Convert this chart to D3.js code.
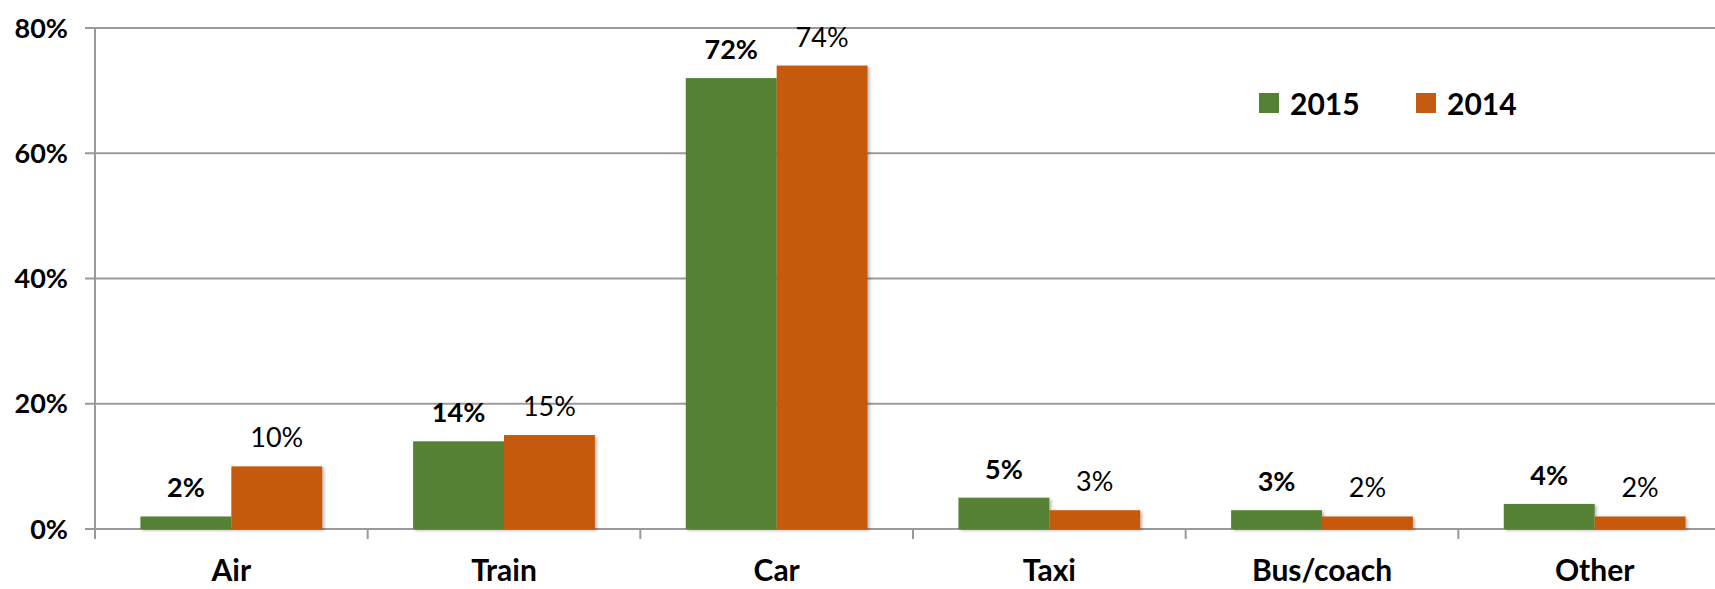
<!DOCTYPE html>
<html>
<head>
<meta charset="utf-8">
<script src="https://cdn.jsdelivr.net/npm/d3@7"></script>
<style>
  html, body { margin: 0; padding: 0; background: #fff; }
  svg { display: block; font-family: Lato, "Open Sans", sans-serif; }
</style>
</head>
<body>
<svg id="chart" width="1715" height="589"></svg>
<script>
// Travel mode shares, by year
const categories = ["Air", "Train", "Car", "Taxi", "Bus/coach", "Other"];
const seriesNames = ["2015", "2014"];
const values2015 = [2, 14, 72, 5, 3, 4];
const values2014 = [10, 15, 74, 3, 2, 2];
const yTicks = [0, 20, 40, 60, 80];

const colors = { "2015": "#548235", "2014": "#C55A11" };
const seriesValues = { "2015": values2015, "2014": values2014 };

const svg = d3.select("#chart");
const plotLeft = 95, plotRight = 1731, plotTop = 28, plotBottom = 529;

const x0 = d3.scaleBand().domain(categories).range([plotLeft, plotRight])
  .paddingInner(1 / 3).paddingOuter(1 / 6);
const x1 = d3.scaleBand().domain(seriesNames).range([0, x0.bandwidth()]);
const y = d3.scaleLinear().domain([0, 80]).range([plotBottom, plotTop]);

const defs = svg.append("defs");
const shadow = defs.append("filter").attr("id", "barShadow")
  .attr("x", "-10%").attr("y", "-10%").attr("width", "130%").attr("height", "130%");
shadow.append("feDropShadow").attr("dx", 2).attr("dy", 1.5)
  .attr("stdDeviation", 1.6).attr("flood-color", "#000").attr("flood-opacity", 0.28);

// Horizontal gridlines with left tick stubs
svg.append("g").selectAll("line").data(yTicks).join("line")
  .attr("x1", plotLeft - 10).attr("x2", 1715)
  .attr("y1", d => y(d)).attr("y2", d => y(d))
  .attr("stroke", "#9a9a9a").attr("stroke-width", 2);

// Value axis labels
svg.append("g").selectAll("text").data(yTicks).join("text")
  .attr("x", 68).attr("y", d => y(d)).attr("dy", "0.36em")
  .attr("text-anchor", "end").attr("font-weight", 700).attr("font-size", 27)
  .attr("fill", "#000").text(d => d + "%");

// Vertical axis line
svg.append("line").attr("x1", plotLeft).attr("x2", plotLeft)
  .attr("y1", y(80)).attr("y2", plotBottom + 10)
  .attr("stroke", "#9a9a9a").attr("stroke-width", 2);

// Category boundary ticks
const step = x0.step();
svg.append("g").selectAll("line").data(d3.range(categories.length + 1)).join("line")
  .attr("x1", i => plotLeft + i * step).attr("x2", i => plotLeft + i * step)
  .attr("y1", plotBottom).attr("y2", plotBottom + 10)
  .attr("stroke", "#9a9a9a").attr("stroke-width", 2);

// Bars
const groups = svg.append("g").selectAll("g").data(categories).join("g")
  .attr("transform", c => `translate(${x0(c)},0)`);

groups.selectAll("rect")
  .data((c, i) => seriesNames.map(s => ({ s, v: seriesValues[s][i] })))
  .join("rect")
  .attr("x", d => x1(d.s)).attr("width", x1.bandwidth())
  .attr("y", d => y(d.v)).attr("height", d => y(0) - y(d.v))
  .attr("fill", d => colors[d.s]).attr("filter", "url(#barShadow)");

// Value labels
groups.selectAll("text")
  .data((c, i) => seriesNames.map(s => ({ s, v: seriesValues[s][i] })))
  .join("text")
  .attr("x", d => x1(d.s) + x1.bandwidth() / 2)
  .attr("y", d => y(d.v) - 19)
  .attr("text-anchor", "middle").attr("font-size", 27)
  .attr("font-weight", d => d.s === "2015" ? 700 : 400)
  .attr("fill", "#000").text(d => d.v + "%");

// Category labels
svg.append("g").selectAll("text").data(categories).join("text")
  .attr("x", c => x0(c) + x0.bandwidth() / 2).attr("y", 581)
  .attr("text-anchor", "middle").attr("font-weight", 700).attr("font-size", 30)
  .attr("fill", "#000").text(c => c);

// Legend
const legendX = [1259, 1416];
const legend = svg.append("g").selectAll("g").data(seriesNames).join("g")
  .attr("transform", (s, i) => `translate(${legendX[i]},93)`);
legend.append("rect").attr("width", 20).attr("height", 20)
  .attr("fill", s => colors[s]);
legend.append("text").attr("x", 31).attr("y", 22)
  .attr("font-weight", 700).attr("font-size", 30).attr("fill", "#000")
  .text(s => s);
</script>
</body>
</html>
